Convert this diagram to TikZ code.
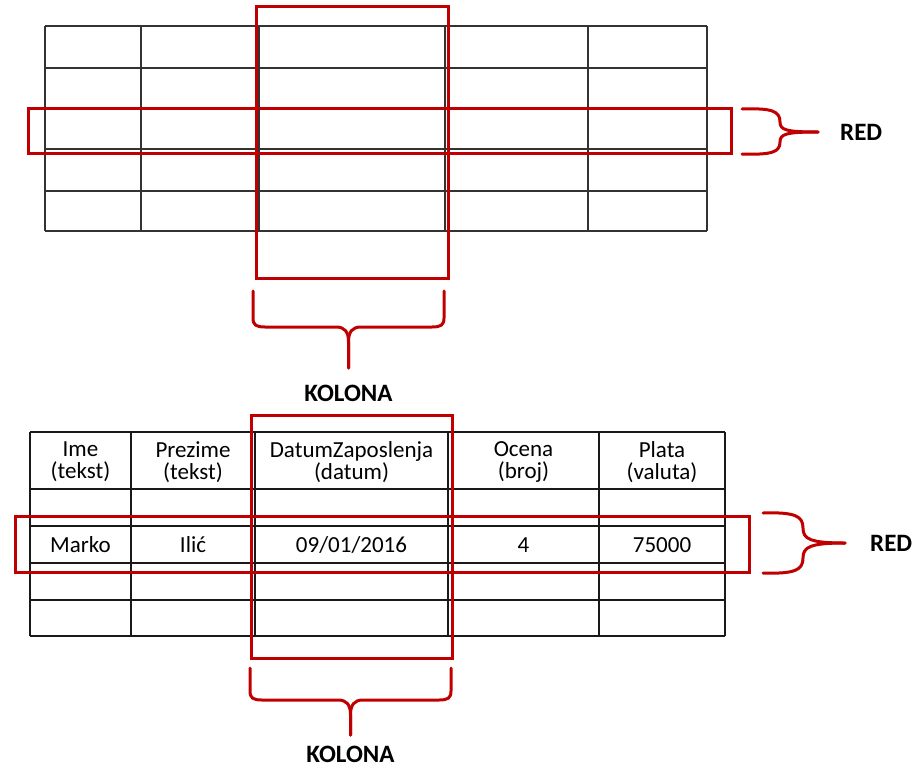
\documentclass[tikz,border=0pt]{standalone}
\usepackage{fontspec}
\setmainfont{Carlito}
\usetikzlibrary{positioning}
\definecolor{markred}{RGB}{192,0,0}
\tikzset{
  gridline/.style={draw=black!80, line width=1.7},
  tabline/.style={draw=black!90, line width=2.2},
  markbox/.style={draw=markred, line width=3},
  markbrace/.style={draw=markred, line width=3, line cap=round},
  celltext/.style={font=\fontsize{23}{22}\selectfont, align=center, inner sep=0},
  marklabel/.style={font=\fontsize{25}{28}\selectfont\bfseries, inner sep=0},
}
\begin{document}
\begin{tikzpicture}[x=1pt,y=-1pt]
  \useasboundingbox (0,0) rectangle (917,768);
  % gornja tabela
  \foreach \x in {45,141,259,445,588,707} \draw[gridline] (\x,26) -- (\x,231);
  \foreach \y in {26,68,108,149,191,231} \draw[gridline] (45,\y) -- (707,\y);
  \draw[markbox] (28,108) rectangle (731,153);   % red
  \draw[markbox] (256,7) rectangle (448,278);    % kolona
  % zagrada za red
  \coordinate (redtipA) at (818,132);
  \draw[markbrace] (742,109) .. controls (772,108) and (780,111) .. (780,122)
    .. controls (780,130) and (786,132) .. (redtipA);
  \draw[markbrace] (742,154) .. controls (772,155) and (780,152) .. (780,142)
    .. controls (780,134) and (786,132) .. (redtipA);
  \node[marklabel, right=22pt of redtipA, anchor=west] (redA) {RED};
  % zagrada za kolonu
  \coordinate (koltipA) at (348.5,368);
  \draw[markbrace] (253,291) -- (253,318) .. controls (253,325) and (256,327) .. (265,327)
    -- (336,327) .. controls (345,327) and (348.5,332) .. (348.5,342) -- (koltipA);
  \draw[markbrace] (444,291) -- (444,318) .. controls (444,325) and (441,327) .. (432,327)
    -- (361,327) .. controls (352,327) and (348.5,332) .. (348.5,342) -- (koltipA);
  \node[marklabel, below=17pt of koltipA, anchor=north] (kolA) {KOLONA};

  % donja tabela
  \foreach \x in {30,131,255,448,599,725} \draw[tabline] (\x,432) -- (\x,636);
  \foreach \y in {432,489,526,563,600,636} \draw[tabline] (30,\y) -- (725,\y);
  \node[celltext] (hIme) at (80.5,462) {Ime\\(tekst)};
  \node[celltext] (hPrezime) at (193,462) {Prezime\\(tekst)};
  \node[celltext] (hDatum) at (351.5,462) {DatumZaposlenja\\(datum)};
  \node[celltext] (hOcena) at (523.5,462) {Ocena\\(broj)};
  \node[celltext] (hPlata) at (662,462) {Plata\\(valuta)};
  \node[celltext] (dIme) at (80.5,545) {Marko};
  \node[celltext] (dPrezime) at (193,545) {Ilić};
  \node[celltext] (dDatum) at (351.5,545) {09/01/2016};
  \node[celltext] (dOcena) at (523.5,545) {4};
  \node[celltext] (dPlata) at (662,545) {75000};
  \draw[markbox] (15,516) rectangle (749,572);   % red
  \draw[markbox] (251,415) rectangle (452,658);  % kolona
  % zagrada za red
  \coordinate (redtipB) at (845,543);
  \draw[markbrace] (763,513) .. controls (795,512) and (803,516) .. (803,528)
    .. controls (803,539) and (810,543) .. (redtipB);
  \draw[markbrace] (763,573) .. controls (795,574) and (803,570) .. (803,558)
    .. controls (803,547) and (810,543) .. (redtipB);
  \node[marklabel, right=25pt of redtipB, anchor=west] (redB) {RED};
  % zagrada za kolonu
  \coordinate (koltipB) at (350.5,735);
  \draw[markbrace] (250,668) -- (250,691) .. controls (250,698) and (253,700) .. (262,700)
    -- (338,700) .. controls (347,700) and (350.5,705) .. (350.5,715) -- (koltipB);
  \draw[markbrace] (451,668) -- (451,691) .. controls (451,698) and (448,700) .. (439,700)
    -- (363,700) .. controls (354,700) and (350.5,705) .. (350.5,715) -- (koltipB);
  \node[marklabel, below=11pt of koltipB, anchor=north] (kolB) {KOLONA};
\end{tikzpicture}
\end{document}
